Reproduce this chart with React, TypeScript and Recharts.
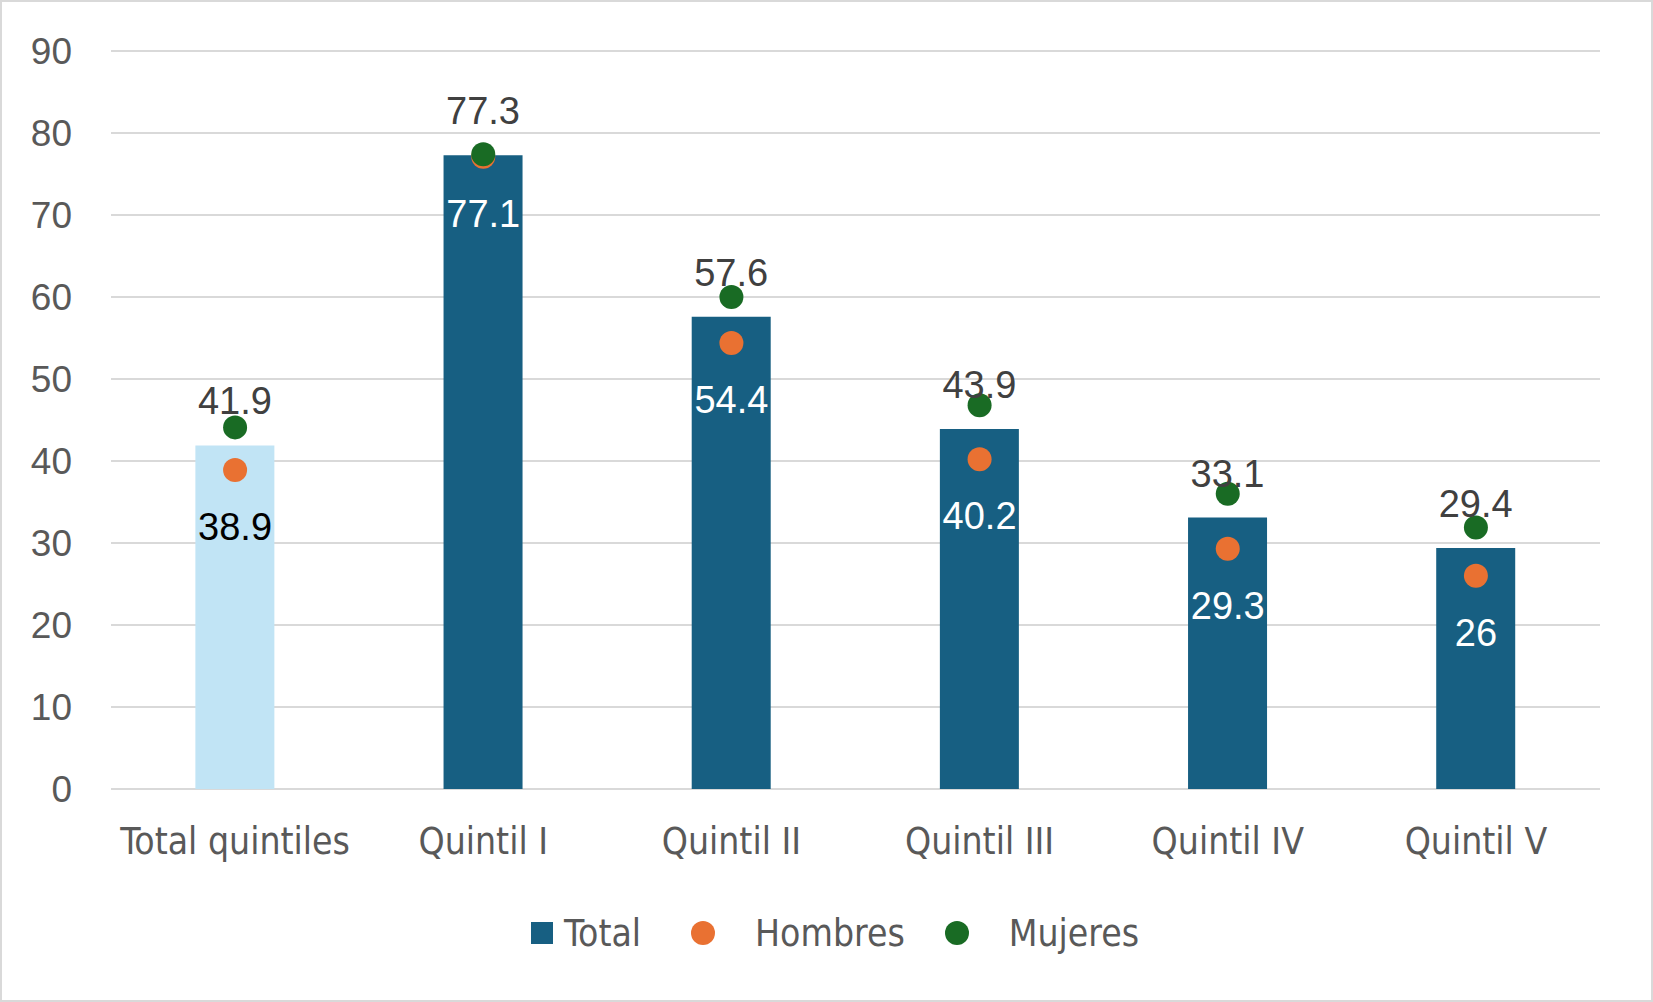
import React from "react";
import {
  ComposedChart,
  Bar,
  Line,
  Cell,
  XAxis,
  YAxis,
  CartesianGrid,
  Legend,
  LabelList,
} from "recharts";

const categories = [
  "Total quintiles",
  "Quintil I",
  "Quintil II",
  "Quintil III",
  "Quintil IV",
  "Quintil V",
];
const totalValues = [41.9, 77.3, 57.6, 43.9, 33.1, 29.4];
const hombresValues = [38.9, 77.1, 54.4, 40.2, 29.3, 26];
const mujeresValues = [44.1, 77.4, 60.0, 46.8, 36.0, 31.9];
const yTicks = [0, 10, 20, 30, 40, 50, 60, 70, 80, 90];

const data = categories.map((name, i) => ({
  name,
  total: totalValues[i],
  hombres: hombresValues[i],
  mujeres: mujeresValues[i],
}));

const BAR_DARK = "#175F82";
const BAR_LIGHT = "#C1E4F5";
const ORANGE = "#E97132";
const GREEN = "#196B24";
const GRID = "#D9D9D9";
const AXIS_TEXT = "#595959";
const LABEL_TEXT = "#404040";
const NUM_FONT = "'Liberation Sans', Arial, sans-serif";
const NARROW_FONT = "'Liberation Sans Narrow', 'DejaVu Sans Condensed', sans-serif";

const YTick = (props: any) => {
  const { x, y, payload } = props;
  return (
    <text
      x={x}
      y={y}
      textAnchor="end"
      dominantBaseline="central"
      fill={AXIS_TEXT}
      fontSize={37}
      fontFamily={NUM_FONT}
    >
      {payload.value}
    </text>
  );
};

const XTick = (props: any) => {
  const { x, y, payload } = props;
  return (
    <text
      x={x}
      y={y + 52}
      textAnchor="middle"
      dominantBaseline="central"
      fill={AXIS_TEXT}
      fontSize={37}
      fontFamily={NARROW_FONT}
    >
      {payload.value}
    </text>
  );
};

const TotalLabel = (props: any) => {
  const { x, y, width, value } = props;
  return (
    <text
      x={x + width / 2}
      y={y - 44}
      textAnchor="middle"
      dominantBaseline="central"
      fill={LABEL_TEXT}
      fontSize={38}
      fontFamily={NUM_FONT}
    >
      {value}
    </text>
  );
};

const HombresLabel = (props: any) => {
  const { x, y, value, index } = props;
  return (
    <text
      x={x}
      y={y + 57}
      textAnchor="middle"
      dominantBaseline="central"
      fill={index === 0 ? "#000000" : "#FFFFFF"}
      fontSize={38}
      fontFamily={NUM_FONT}
    >
      {value}
    </text>
  );
};

const legendItems = [
  { label: "Total", color: BAR_DARK, shape: "square", gap: 0 },
  { label: "Hombres", color: ORANGE, shape: "circle", gap: 50 },
  { label: "Mujeres", color: GREEN, shape: "circle", gap: 40 },
];

const LegendContent = () => (
  <div
    style={{
      display: "flex",
      justifyContent: "center",
      alignItems: "center",
      height: 40,
      paddingLeft: 68,
      fontFamily: NARROW_FONT,
      fontSize: 37,
      color: AXIS_TEXT,
    }}
  >
    {legendItems.map((item) => (
      <div
        key={item.label}
        style={{ display: "flex", alignItems: "center", marginLeft: item.gap }}
      >
        {item.shape === "square" ? (
          <div style={{ width: 22, height: 22, background: item.color, marginRight: 11 }} />
        ) : (
          <div
            style={{
              width: 24,
              height: 24,
              borderRadius: 12,
              background: item.color,
              marginRight: 40,
            }}
          />
        )}
        <span>{item.label}</span>
      </div>
    ))}
  </div>
);

export default function App() {
  return (
    <div
      style={{
        position: "absolute",
        left: 0,
        top: 0,
        width: 1653,
        height: 1002,
        boxSizing: "border-box",
        border: `2px solid ${GRID}`,
        background: "#FFFFFF",
      }}
    >
      <ComposedChart
        width={1649}
        height={998}
        data={data}
        margin={{ top: 49, right: 51, bottom: 47, left: 0 }}
        barCategoryGap="34%"
      >
        <CartesianGrid vertical={false} stroke={GRID} strokeWidth={2} />
        <XAxis
          dataKey="name"
          axisLine={false}
          tickLine={false}
          tickSize={0}
          tickMargin={0}
          height={124}
          interval={0}
          tick={<XTick />}
        />
        <YAxis
          domain={[0, 90]}
          ticks={yTicks}
          axisLine={false}
          tickLine={false}
          tickSize={0}
          tickMargin={39}
          width={109}
          tick={<YTick />}
        />
        <Legend verticalAlign="bottom" height={40} content={<LegendContent />} />
        <Bar dataKey="total" name="Total" isAnimationActive={false}>
          {data.map((entry, index) => (
            <Cell key={`cell-${index}`} fill={index === 0 ? BAR_LIGHT : BAR_DARK} />
          ))}
          <LabelList dataKey="total" content={<TotalLabel />} />
        </Bar>
        <Line
          dataKey="hombres"
          name="Hombres"
          stroke="none"
          strokeWidth={0}
          dot={{ r: 12, fill: ORANGE, stroke: "none" }}
          activeDot={false}
          isAnimationActive={false}
        >
          <LabelList dataKey="hombres" content={<HombresLabel />} />
        </Line>
        <Line
          dataKey="mujeres"
          name="Mujeres"
          stroke="none"
          strokeWidth={0}
          dot={{ r: 12, fill: GREEN, stroke: "none" }}
          activeDot={false}
          isAnimationActive={false}
        />
      </ComposedChart>
    </div>
  );
}
